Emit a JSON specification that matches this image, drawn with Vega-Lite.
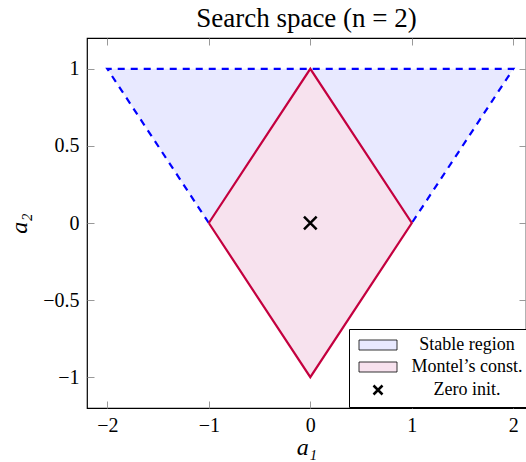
{
  "$schema": "https://vega.github.io/schema/vega-lite/v6.json",
  "autosize": {"type": "none"},
  "padding": {"left": 87, "top": 38, "right": 0, "bottom": 54},
  "width": 439,
  "height": 370,
  "title": {"text": "Search space (n = 2)", "font": "Liberation Serif", "fontSize": 27, "fontWeight": "normal", "color": "black", "anchor": "middle", "baseline": "bottom", "offset": -22},
  "datasets": {
    "regions": [
      {"a1": -2, "lo": 1, "hi": 1, "label": "Stable region"},
      {"a1": 0, "lo": -1, "hi": 1, "label": "Stable region"},
      {"a1": 2, "lo": 1, "hi": 1, "label": "Stable region"},
      {"a1": -1, "lo": 0, "hi": 0, "label": "Montel’s const."},
      {"a1": 0, "lo": -1, "hi": 1, "label": "Montel’s const."},
      {"a1": 1, "lo": 0, "hi": 0, "label": "Montel’s const."}
    ],
    "stable": [
      {"a1": -1, "a2": 0, "ord": 1},
      {"a1": -2, "a2": 1, "ord": 2},
      {"a1": 2, "a2": 1, "ord": 3},
      {"a1": 1, "a2": 0, "ord": 4}
    ],
    "montel": [
      {"a1": -1, "a2": 0, "ord": 1},
      {"a1": 0, "a2": 1, "ord": 2},
      {"a1": 1, "a2": 0, "ord": 3},
      {"a1": 0, "a2": -1, "ord": 4},
      {"a1": -1, "a2": 0, "ord": 5}
    ],
    "zero": [
      {"a1": 0, "a2": 0, "label": "Zero init."}
    ]
  },
  "resolve": {"axis": {"x": "independent", "y": "independent"}},
  "layer": [
    {
      "data": {"name": "regions"},
      "mark": {"type": "area", "interpolate": "linear", "opacity": 1},
      "encoding": {
        "x": {"field": "a1", "type": "quantitative", "scale": {"domain": [-2.2, 2.125], "nice": false, "zero": false},
          "axis": {"orient": "bottom", "values": [-2, -1, 0, 1, 2], "format": "~f", "title": "a₁", "titleFontStyle": "italic", "titleFont": "Liberation Serif", "titleFontSize": 24, "titleFontWeight": "normal", "titlePadding": 0, "labelFont": "Liberation Serif", "labelFontSize": 20, "labelColor": "black", "labelPadding": 14, "tickSize": -7, "tickColor": "#999", "domain": false, "grid": false, "labelFlush": false}},
        "y": {"field": "lo", "type": "quantitative", "scale": {"domain": [-1.2, 1.2], "nice": false, "zero": false},
          "axis": {"orient": "left", "values": [-1, -0.5, 0, 0.5, 1], "format": ".1~f", "title": "a₂", "titleFontStyle": "italic", "titleFont": "Liberation Serif", "titleFontSize": 24, "titleFontWeight": "normal", "titlePadding": 11, "labelFont": "Liberation Serif", "labelFontSize": 20, "labelColor": "black", "labelPadding": 15, "tickSize": -7, "tickColor": "#999", "domain": false, "grid": false, "labelFlush": false}},
        "y2": {"field": "hi"},
        "detail": {"field": "label"},
        "color": {"field": "label", "type": "nominal",
          "scale": {"domain": ["Stable region", "Montel’s const.", "Zero init."], "range": ["#e8e9ff", "#f7e2ee", "black"]},
          "legend": {
            "title": null, "orient": "none", "legendX": 262, "legendY": 291,
            "strokeColor": "black", "fillColor": "white", "padding": 7,
            "symbolSize": 100, "symbolOffset": 13, "rowPadding": 4, "columnPadding": 0,
            "symbolType": {"expr": "datum.value === 'Zero init.' ? 'M-0.9,-0.9L0.9,0.9M-0.9,0.9L0.9,-0.9' : 'M-3.8,-1H3.8V1H-3.8Z'"},
            "symbolStrokeColor": "black",
            "symbolStrokeWidth": {"expr": "datum.value === 'Zero init.' ? 2.5 : 0.8"},
            "symbolOpacity": 1,
            "labelFont": "Liberation Serif", "labelFontSize": 18, "labelColor": "black",
            "labelAlign": "center", "labelOffset": 80
          }}
      }
    },
    {
      "data": {"name": "stable"},
      "mark": {"type": "line", "color": "#0000ff", "strokeWidth": 2.2, "strokeDash": [7, 6]},
      "encoding": {
        "x": {"field": "a1", "type": "quantitative", "axis": null},
        "y": {"field": "a2", "type": "quantitative", "axis": null},
        "order": {"field": "ord"}
      }
    },
    {
      "data": {"name": "montel"},
      "mark": {"type": "line", "color": "#c4003f", "strokeWidth": 2.2},
      "encoding": {
        "x": {"field": "a1", "type": "quantitative", "axis": null},
        "y": {"field": "a2", "type": "quantitative", "axis": null},
        "order": {"field": "ord"}
      }
    },
    {
      "data": {"name": "zero"},
      "mark": {"type": "point", "shape": "M-1,-1L1,1M-1,1L1,-1", "size": 160, "color": "black", "strokeWidth": 2.5, "filled": false, "opacity": 1},
      "encoding": {
        "x": {"field": "a1", "type": "quantitative",
          "axis": {"orient": "top", "values": [-2, -1, 0, 1, 2], "labels": false, "title": null, "tickSize": -7, "tickColor": "#999", "domain": false, "grid": false}},
        "y": {"field": "a2", "type": "quantitative",
          "axis": {"orient": "right", "values": [-1, -0.5, 0, 0.5, 1], "labels": false, "title": null, "tickSize": -7, "tickColor": "#999", "domain": false, "grid": false}}
      }
    }
  ],
  "config": {
    "view": {"stroke": "black", "strokeWidth": 1.2},
    "font": "Liberation Serif"
  }
}
